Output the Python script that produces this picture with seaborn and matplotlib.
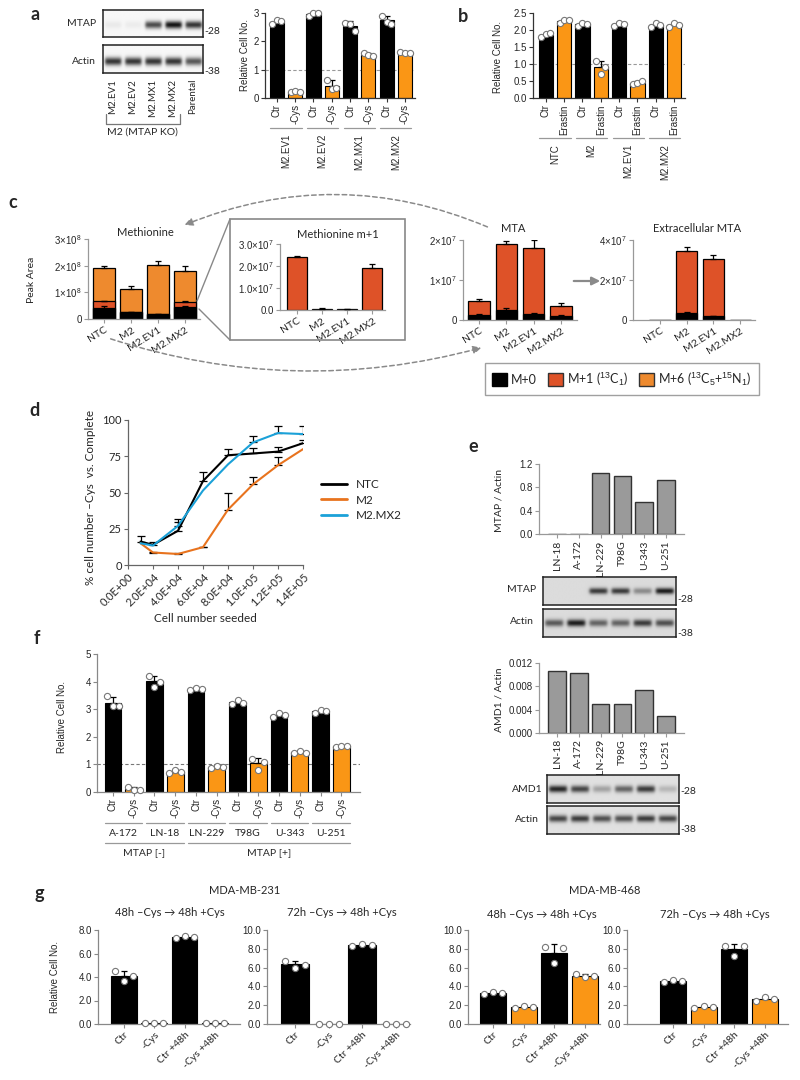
import numpy as np
import pandas as pd
import seaborn as sns
import matplotlib.pyplot as plt
import matplotlib.transforms as mtransforms
from matplotlib.patches import Rectangle, FancyArrowPatch, Patch
from matplotlib.lines import Line2D

W, H = 800, 1080
ORANGE = '#FA9615'
RED = '#DE5228'
ORANGE6 = '#EE8A2E'
GREY = '#9A9A9A'
COND_COL = {'Ctr': 'black', '-Cys': ORANGE, 'Erastin': ORANGE,
            'Ctr +48h': 'black', '-Cys +48h': ORANGE}

# ---- panel a ----
a_blot_lanes = ['M2.EV1', 'M2.EV2', 'M2.MX1', 'M2.MX2', 'Parental']
a_mtap_band = [0.06, 0.05, 0.75, 1.0, 0.85]
a_actin_band = [0.85, 0.85, 0.85, 0.85, 0.7]
a_groups = ['M2.EV1', 'M2.EV2', 'M2.MX1', 'M2.MX2']
a_conds = ['Ctr', '-Cys']
a_reps = [[2.60, 2.75, 2.72], [0.20, 0.25, 0.22],
          [2.88, 3.00, 3.00], [0.65, 0.32, 0.35],
          [2.66, 2.62, 2.35], [1.58, 1.52, 1.50],
          [2.90, 2.70, 2.62], [1.62, 1.60, 1.60]]

# ---- panel b ----
b_groups = ['NTC', 'M2', 'M2.EV1', 'M2.MX2']
b_conds = ['Ctr', 'Erastin']
b_reps = [[1.80, 1.88, 1.90], [2.20, 2.28, 2.28],
          [2.12, 2.20, 2.18], [1.08, 0.72, 0.90],
          [2.12, 2.22, 2.18], [0.40, 0.45, 0.50],
          [2.10, 2.20, 2.15], [2.10, 2.20, 2.15]]

# ---- panel c (peak areas) ----
c_lines = ['NTC', 'M2', 'M2.EV1', 'M2.MX2']
met_m0 = [0.42e8, 0.25e8, 0.18e8, 0.45e8]
met_m1 = [0.24e8, 0.005e8, 0.003e8, 0.19e8]
met_m6 = [1.27e8, 0.875e8, 1.847e8, 1.16e8]
met_err = [[0.06e8, 0.02e8, 0.02e8, 0.04e8], [0.02e8, 0, 0, 0.03e8],
           [0.06e8, 0.12e8, 0.16e8, 0.18e8]]
metm1 = [2.4e7, 0.05e7, 0.03e7, 1.9e7]
metm1_err = [0.06e7, 0.02e7, 0.01e7, 0.2e7]
mta_m0 = [0.13e7, 0.25e7, 0.14e7, 0.10e7]
mta_m1 = [0.345e7, 1.64e7, 1.67e7, 0.26e7]
mta_err = [[0.02e7, 0.04e7, 0.03e7, 0.02e7], [0.05e7, 0.09e7, 0.18e7, 0.06e7]]
ext_m0 = [0, 0.37e7, 0.18e7, 0]
ext_m1 = [0, 3.08e7, 2.85e7, 0]
ext_err = [[0, 0.05e7, 0.03e7, 0], [0, 0.2e7, 0.2e7, 0]]

# ---- panel d ----
d_seeded = [1e4, 2e4, 4e4, 6e4, 8e4, 1e5, 1.2e5, 1.4e5]
d_ntc = [16.2, 13.9, 23.6, 57.9, 75.7, 76.9, 78.2, 84.0]
d_ntc_err = [3.8, 2.3, 8.1, 6.1, 4.3, 3.6, 3.5, 2.3]
d_m2 = [15.0, 8.6, 7.6, 12.3, 38.2, 55.6, 68.8, 79.9]
d_m2_err = [0, 0.7, 1.0, 0.4, 11.6, 5.3, 6.0, 0]
d_mx2 = [15.0, 13.4, 27.0, 51.4, 69.4, 84.5, 91.0, 90.3]
d_mx2_err = [0, 0, 3.0, 0, 0, 4.2, 5.0, 5.3]
d_ticks = [0, 2e4, 4e4, 6e4, 8e4, 1e5, 1.2e5, 1.4e5]

# ---- panel e ----
e_cells = ['LN-18', 'A-172', 'LN-229', 'T98G', 'U-343', 'U-251']
e_mtap_ratio = [0.005, 0.005, 1.04, 1.0, 0.55, 0.92]
e_amd1_ratio = [0.0107, 0.0103, 0.005, 0.005, 0.0074, 0.003]
e_mtap_band = [0.0, 0.0, 0.8, 0.8, 0.4, 0.95]
e_actin1_band = [0.65, 0.95, 0.6, 0.6, 0.8, 0.7]
e_amd1_band = [0.9, 0.75, 0.3, 0.6, 0.8, 0.2]
e_actin2_band = [0.75, 0.8, 0.7, 0.7, 0.8, 0.75]

# ---- panel f ----
f_cells = ['A-172', 'LN-18', 'LN-229', 'T98G', 'U-343', 'U-251']
f_reps = [[3.47, 3.10, 3.10], [0.18, 0.06, 0.08],
          [4.20, 3.82, 4.00], [0.70, 0.78, 0.74],
          [3.70, 3.76, 3.74], [0.88, 0.95, 0.92],
          [3.20, 3.32, 3.22], [1.20, 0.80, 1.10],
          [2.72, 2.85, 2.78], [1.40, 1.48, 1.42],
          [2.88, 2.98, 2.92], [1.62, 1.68, 1.65]]

# ---- panel g ----
g_conds = ['Ctr', '-Cys', 'Ctr +48h', '-Cys +48h']
g231_48 = [[4.55, 3.70, 4.10], [0.05, 0.05, 0.05], [7.30, 7.50, 7.40], [0.05, 0.05, 0.05]]
g231_72 = [[6.75, 6.00, 6.30], [0.05, 0.05, 0.05], [8.30, 8.55, 8.40], [0.05, 0.05, 0.05]]
g468_48 = [[3.20, 3.38, 3.30], [1.75, 1.95, 1.85], [8.15, 6.45, 8.10], [5.30, 5.00, 5.15]]
g468_72 = [[4.50, 4.70, 4.55], [1.75, 1.90, 1.80], [8.30, 7.25, 8.25], [2.45, 2.85, 2.70]]

sns.set_style('ticks')
plt.rcParams['font.family'] = ['Liberation Sans', 'DejaVu Sans']
plt.rcParams['mathtext.fontset'] = 'custom'
plt.rcParams['mathtext.rm'] = 'Liberation Sans'
plt.rcParams['mathtext.it'] = 'Liberation Sans:italic'
plt.rcParams['mathtext.bf'] = 'Liberation Sans:bold'
CAL = ['Lato', 'DejaVu Sans']
ARI = ['Liberation Sans', 'DejaVu Sans']

fig = plt.figure(figsize=(8, 10.8), dpi=100)
ov = fig.add_axes([0, 0, 1, 1], zorder=10)
ov.set_xlim(0, W)
ov.set_ylim(H, 0)
ov.axis('off')


def box(x0, y0, x1, y1):
    return fig.add_axes([x0 / W, 1 - y1 / H, (x1 - x0) / W, (y1 - y0) / H])


def prism(ax, fs=7, color='#333333'):
    sns.despine(ax=ax)
    for s in ('left', 'bottom'):
        ax.spines[s].set_color(color)
        ax.spines[s].set_linewidth(0.9)
    ax.tick_params(axis='both', length=3, width=0.8, color=color, labelsize=fs, pad=1.5)
    ax.set_xlabel('')
    ax.set_ylabel('')
    ax.patch.set_alpha(0)


def rep_bars(ax, reps, colors, width=0.78, dot=20, spread=0.25):
    idx = np.arange(len(reps))
    means = np.array([np.mean(r) for r in reps])
    sds = np.array([np.std(r, ddof=1) for r in reps])
    sns.barplot(x=idx, y=means, hue=idx, palette=list(colors), legend=False, width=width, saturation=1,
                edgecolor='black', linewidth=0.8, ax=ax, zorder=2)
    ax.errorbar(idx, means, yerr=[np.zeros_like(sds), sds], fmt='none', ecolor='black',
                elinewidth=0.9, capsize=2.5, capthick=0.9, zorder=3)
    for i, r in enumerate(reps):
        off = np.linspace(-spread, spread, len(r))
        ax.scatter(i + off, r, s=dot, facecolor='white', edgecolor='#777777', linewidth=0.8,
                   zorder=4, clip_on=False)
    return idx


def stack_bars(ax, layers, colors, errs, width=0.8):
    cum = np.cumsum(np.array(layers, dtype=float), axis=0)
    idx = np.arange(cum.shape[1])
    for k in range(cum.shape[0] - 1, -1, -1):
        sns.barplot(x=idx, y=cum[k], color=colors[k], width=width, edgecolor='black', saturation=1,
                    linewidth=0.9, ax=ax, zorder=2)
    for k in range(cum.shape[0]):
        e = np.array(errs[k], float)
        m = e > 0
        ax.errorbar(idx[m], cum[k][m], yerr=[np.zeros(m.sum()), e[m]], fmt='none', ecolor='black',
                    elinewidth=0.9, capsize=2.5, capthick=0.9, zorder=5)
    return idx


def groups(ax, names, y_line, y_text, size=2, pad=0.35, rot=90, fs=7, family=ARI, color='#999999'):
    tr = mtransforms.blended_transform_factory(ax.transData, ov.transData)
    for g, name in enumerate(names):
        x0, x1 = g * size - pad, g * size + size - 1 + pad
        ov.plot([x0, x1], [y_line, y_line], color=color, lw=0.9, transform=tr, clip_on=False)
        ov.text((x0 + x1) / 2, y_text, name, rotation=rot, ha='center',
                va='top' if rot else 'center', fontsize=fs, family=family, transform=tr)


def blot(x0, y0, x1, y1, bands, row=0.5, sigma=0.09, wid=0.8, bg=0.95):
    ax = box(x0, y0, x1, y1)
    n = len(bands)
    yy = np.linspace(0, 1, 60)[:, None]
    xx = np.linspace(0, n, 80 * n)[None, :]
    img = np.full((60, 80 * n), bg)
    for i, b in enumerate(bands):
        hx = 1 / (1 + np.exp(-(xx - (i + 0.5 - wid / 2)) / 0.04)) / (1 + np.exp((xx - (i + 0.5 + wid / 2)) / 0.04))
        vy = np.exp(-0.5 * ((yy - row) / sigma) ** 2)
        img = img - b * bg * 0.92 * hx * vy
    ax.imshow(img, cmap='gray', vmin=0, vmax=1, aspect='auto', interpolation='bilinear')
    ax.set_xticks([])
    ax.set_yticks([])
    for s in ax.spines.values():
        s.set_color('#222222')
        s.set_linewidth(1.1)
    return ax


def ptxt(x, y, s, **kw):
    kw.setdefault('fontsize', 7)
    kw.setdefault('family', ARI)
    ov.text(x, y, s, **kw)


# panel letters
for lab, (x, y) in zip('abcdefg', [(35, 15), (463, 17), (13, 203), (35, 410), (473, 447), (37, 638), (39, 893)]):
    ptxt(x, y, lab, fontsize=13, fontweight='bold', family=CAL, ha='center', va='center')

# ================= a =================
blot(103, 10, 203, 37, a_mtap_band, row=0.55, sigma=0.1, bg=0.97)
blot(103, 45, 203, 73, a_actin_band, row=0.6, sigma=0.1, bg=0.97)
ptxt(96, 23, 'MTAP', ha='right', va='center', family=CAL, fontsize=7.5)
ptxt(96, 62, 'Actin', ha='right', va='center', family=CAL, fontsize=7.5)
ptxt(204, 32, '-28', va='center', family=CAL, fontsize=7.5)
ptxt(204, 71, '-38', va='center', family=CAL, fontsize=7.5)
for i, lane in enumerate(a_blot_lanes):
    ptxt(113 + 20 * i, 79, lane, rotation=90, ha='center', va='top', family=CAL, fontsize=7)
ov.plot([106, 106, 180, 180], [114, 124, 124, 114], color='#777777', lw=0.9)
ptxt(142, 132, 'M2 (MTAP KO)', ha='center', va='center', family=CAL, fontsize=7.5)

ax = box(265, 13, 415, 98)
a_labels = [c for g in a_groups for c in a_conds]
ax.axhline(1, color='#999999', lw=0.8, ls=(0, (3, 2)), zorder=0.5)
idx = rep_bars(ax, a_reps, [COND_COL[c] for c in a_labels])
prism(ax)
ax.set_ylim(0, 3)
ax.set_yticks([0, 1, 2, 3])
ax.set_xlim(-0.65, 7.55)
ax.set_xticks(idx)
ax.set_xticklabels(a_labels, rotation=90)
groups(ax, a_groups, 128, 134)
ptxt(245, 55, 'Relative Cell No.', rotation=90, ha='center', va='center')

# ================= b =================
ax = box(533, 13, 685, 98)
b_labels = [c for g in b_groups for c in b_conds]
ax.axhline(1, color='#999999', lw=0.8, ls=(0, (3, 2)), zorder=0.5)
idx = rep_bars(ax, b_reps, [COND_COL[c] for c in b_labels])
prism(ax)
ax.set_ylim(0, 2.5)
ax.set_yticks([0, 0.5, 1.0, 1.5, 2.0, 2.5])
ax.yaxis.set_major_formatter('{x:.1f}')
ax.set_xlim(-0.7, 7.6)
ax.set_xticks(idx)
ax.set_xticklabels(b_labels, rotation=90)
groups(ax, b_groups, 138, 144)
ptxt(498, 57, 'Relative Cell No.', rotation=90, ha='center', va='center')

# ================= c =================
def c_axes(ax, ymax, ticks, labels):
    prism(ax, fs=7)
    ax.set_ylim(0, ymax)
    ax.set_yticks(ticks)
    ax.set_yticklabels(labels)
    ax.set_xticks(range(len(c_lines)))
    ax.set_xticklabels(c_lines, rotation=32, ha='right', rotation_mode='anchor', family=CAL, fontsize=7.5)
    ax.spines['left'].set_color('#999999')
    ax.spines['bottom'].set_color('#999999')
    ax.tick_params(color='#999999')


ax = box(88, 239, 200, 319)
stack_bars(ax, [met_m0, met_m1, met_m6], ['black', RED, ORANGE6], met_err)
c_axes(ax, 3e8, [0, 1e8, 2e8, 3e8], ['0', r'$1{\times}10^{8}$', r'$2{\times}10^{8}$', r'$3{\times}10^{8}$'])
ax.set_xlim(-0.6, 3.55)
ptxt(145, 232, 'Methionine', ha='center', va='center', family=CAL, fontsize=8)
ptxt(32, 280, 'Peak Area', rotation=90, ha='center', va='center', family=CAL, fontsize=7.5)

ax = box(280, 244, 385, 310)
stack_bars(ax, [metm1], [RED], [metm1_err])
c_axes(ax, 3e7, [0, 1e7, 2e7, 3e7], ['0.0', r'$1.0{\times}10^{7}$', r'$2.0{\times}10^{7}$', r'$3.0{\times}10^{7}$'])
ax.set_xlim(-0.67, 3.5)
ptxt(338, 234, 'Methionine m+1', ha='center', va='center', family=CAL, fontsize=8)
ov.add_patch(Rectangle((230, 219), 175, 121, fill=False, ec='#888888', lw=1.2))
ov.plot([197, 230], [301, 219], color='#888888', lw=1.0)
ov.plot([199, 230], [309, 340], color='#888888', lw=1.0)

ax = box(463, 240, 577, 320)
stack_bars(ax, [mta_m0, mta_m1], ['black', RED], mta_err)
c_axes(ax, 2e7, [0, 1e7, 2e7], ['0', r'$1{\times}10^{7}$', r'$2{\times}10^{7}$'])
ax.set_xlim(-0.6, 3.6)
ptxt(513, 229, 'MTA', ha='center', va='center', family=CAL, fontsize=8)

ax = box(633, 240, 755, 320)
stack_bars(ax, [ext_m0, ext_m1], ['black', RED], ext_err)
c_axes(ax, 4e7, [0, 2e7, 4e7], ['0', r'$2{\times}10^{7}$', r'$4{\times}10^{7}$'])
ax.set_xlim(-1.0, 3.55)
ptxt(697, 229, 'Extracellular MTA', ha='center', va='center', family=CAL, fontsize=8)

ov.add_patch(FancyArrowPatch((490, 228), (182, 226), connectionstyle='arc3,rad=0.21',
                             arrowstyle='-|>', mutation_scale=12, ls=(0, (3, 2)), color='#8a8a8a', lw=1.1))
ov.add_patch(FancyArrowPatch((108, 338), (484, 347), connectionstyle='arc3,rad=0.15',
                             arrowstyle='-|>', mutation_scale=12, ls=(0, (3, 2)), color='#8a8a8a', lw=1.1))
ov.add_patch(FancyArrowPatch((571, 281), (603, 281), arrowstyle='-|>', mutation_scale=12,
                             color='#8a8a8a', lw=1.6))
leg_h = [Patch(fc='black', ec='black'), Patch(fc=RED, ec='#333333'), Patch(fc=ORANGE6, ec='#333333')]
leg_l = ['M+0', r'M+1 ($^{13}$C$_{1}$)', r'M+6 ($^{13}$C$_{5}$+$^{15}$N$_{1}$)']
lg = ov.legend(leg_h, leg_l, loc='center', bbox_to_anchor=(622 / W, 1 - 379 / H), bbox_transform=fig.transFigure,
               ncol=3, frameon=True, fancybox=False, edgecolor='#888888', handlelength=1.2, handleheight=1.3,
               handletextpad=0.3, columnspacing=0.9, borderpad=0.55, prop={'family': CAL, 'size': 9})
lg.get_frame().set_linewidth(1.0)

# ================= d =================
ax = box(128, 420, 303, 565)
d_df = pd.DataFrame({
    'seeded': d_seeded * 3,
    'pct': d_ntc + d_m2 + d_mx2,
    'line': ['NTC'] * 8 + ['M2'] * 8 + ['M2.MX2'] * 8,
})
d_pal = {'NTC': 'black', 'M2': '#E8731E', 'M2.MX2': '#1BA1D8'}
sns.lineplot(data=d_df, x='seeded', y='pct', hue='line', palette=d_pal, lw=1.5, ax=ax, legend=False, zorder=3)
for vals, errs in [(d_ntc, d_ntc_err), (d_m2, d_m2_err), (d_mx2, d_mx2_err)]:
    v, e, s = np.array(vals), np.array(errs), np.array(d_seeded)
    m = e > 0
    ax.errorbar(s[m], v[m], yerr=[np.zeros(m.sum()), e[m]], fmt='none', ecolor='black',
                elinewidth=0.9, capsize=3, capthick=0.9, zorder=2)
prism(ax, fs=8, color='#666666')
ax.set_xlim(0, 1.4e5)
ax.set_ylim(0, 100)
ax.set_yticks([0, 25, 50, 75, 100])
ax.set_xticks(d_ticks)
ax.set_xticklabels([f'{t:.1E}' for t in d_ticks], rotation=45, ha='right', rotation_mode='anchor',
                   family=CAL, fontsize=8)
for t in ax.get_yticklabels():
    t.set_family(CAL)
ax.legend([Line2D([], [], color=d_pal[k], lw=2) for k in d_pal], list(d_pal), loc='center left',
          bbox_to_anchor=(310 / W, 1 - 500 / H), bbox_transform=fig.transFigure, frameon=False,
          handlelength=2.2, labelspacing=0.35, prop={'family': CAL, 'size': 8.5})
ptxt(205, 618, 'Cell number seeded', ha='center', va='center', family=CAL, fontsize=8.5)
ptxt(90, 497, '% cell number \u2013Cys  vs. Complete', rotation=90, ha='center', va='center',
     family=CAL, fontsize=8.5)

# ================= e =================
def e_bars(ax, vals, ymax, ticks, fmt):
    sns.barplot(x=e_cells, y=vals, color=GREY, edgecolor='#333333', linewidth=1.0, width=0.8,
                saturation=1, ax=ax)
    prism(ax, fs=7, color='#999999')
    ax.set_ylim(0, ymax)
    ax.set_yticks(ticks)
    ax.yaxis.set_major_formatter(fmt)
    ax.set_xlim(-0.83, 5.83)
    ax.set_xticks(range(len(e_cells)))
    ax.set_xticklabels(e_cells, rotation=90, family=CAL, fontsize=7.5)


ax = box(539, 464, 684, 534)
e_bars(ax, e_mtap_ratio, 1.2, [0, 0.4, 0.8, 1.2], '{x:.1f}')
ptxt(499, 500, 'MTAP / Actin', rotation=90, ha='center', va='center', family=CAL, fontsize=7.5)
blot(543, 577, 676, 605, e_mtap_band, row=0.5, sigma=0.08, bg=0.86)
blot(543, 609, 676, 637, e_actin1_band, row=0.5, sigma=0.09, bg=0.86)
ptxt(522, 590, 'MTAP', ha='center', va='center', family=CAL, fontsize=7.5)
ptxt(522, 622, 'Actin', ha='center', va='center', family=CAL, fontsize=7.5)
ptxt(677, 600, '-28', va='center', family=CAL, fontsize=7.5)
ptxt(677, 633, '-38', va='center', family=CAL, fontsize=7.5)

ax = box(539, 663, 684, 733)
e_bars(ax, e_amd1_ratio, 0.012, [0, 0.004, 0.008, 0.012], '{x:.3f}')
ptxt(499, 700, 'AMD1 / Actin', rotation=90, ha='center', va='center', family=CAL, fontsize=7.5)
blot(547, 775, 679, 803, e_amd1_band, row=0.5, sigma=0.09, bg=0.88)
blot(547, 806, 679, 834, e_actin2_band, row=0.45, sigma=0.09, bg=0.88)
ptxt(527, 790, 'AMD1', ha='center', va='center', family=CAL, fontsize=7.5)
ptxt(527, 820, 'Actin', ha='center', va='center', family=CAL, fontsize=7.5)
ptxt(680, 792, '-28', va='center', family=CAL, fontsize=7.5)
ptxt(680, 830, '-38', va='center', family=CAL, fontsize=7.5)

# ================= f =================
ax = box(97, 654, 360, 792)
f_labels = [c for g in f_cells for c in a_conds]
ax.axhline(1, color='#777777', lw=0.8, ls=(0, (3, 2)), zorder=0.5)
idx = rep_bars(ax, f_reps, [COND_COL[c] for c in f_labels], width=0.8, spread=0.28)
prism(ax, color='#888888')
ax.set_ylim(0, 5)
ax.set_yticks([0, 1, 2, 3, 4, 5])
ax.set_xlim(-0.77, 11.9)
ax.set_xticks(idx)
ax.set_xticklabels(f_labels, rotation=90)
groups(ax, f_cells, 823, 833, rot=0, family=CAL, fs=7.5, pad=0.4)
tr = mtransforms.blended_transform_factory(ax.transData, ov.transData)
for name, g0, g1 in [('MTAP [-]', 0, 1), ('MTAP [+]', 2, 5)]:
    x0, x1 = 2 * g0 - 0.4, 2 * g1 + 1.4
    ov.plot([x0, x1], [843, 843], color='#999999', lw=0.9, transform=tr)
    ov.text((x0 + x1) / 2, 853, name, ha='center', va='center', fontsize=7.5, family=CAL, transform=tr)
ptxt(62, 717, 'Relative Cell No.', rotation=90, ha='center', va='center')

# ================= g =================
g_panels = [((98, 930, 240, 1024), g231_48, 8, (-0.86, 3.83), ['black'] * 4, (170, 912)),
            ((267, 930, 410, 1024), g231_72, 10, (-0.84, 3.43), ['black'] * 4, (342, 912)),
            ((468, 930, 600, 1024), g468_48, 10, (-0.83, 3.5), [COND_COL[c] for c in g_conds], (542, 915)),
            ((627, 930, 788, 1024), g468_72, 10, (-1.5, 3.75), [COND_COL[c] for c in g_conds], (715, 915))]
g_titles = ['48h \u2013Cys \u2192 48h +Cys', '72h \u2013Cys \u2192 48h +Cys',
            '48h \u2013Cys \u2192 48h +Cys', '72h \u2013Cys \u2192 48h +Cys']
for (bx, reps, ymax, xl, cols, tpos), title in zip(g_panels, g_titles):
    ax = box(*bx)
    idx = rep_bars(ax, reps, cols, width=0.85, spread=0.3)
    prism(ax, fs=7, color='#888888')
    ax.set_ylim(0, ymax)
    ax.set_yticks(np.arange(0, ymax + 0.1, 2))
    ax.yaxis.set_major_formatter('{x:.1f}')
    ax.set_xlim(*xl)
    ax.set_xticks(idx)
    ax.set_xticklabels(g_conds, rotation=45, ha='right', rotation_mode='anchor', family=CAL, fontsize=7.5)
    ptxt(tpos[0], tpos[1], title, ha='center', va='center', family=CAL, fontsize=8)
ptxt(245, 890, 'MDA-MB-231', ha='center', va='center', family=CAL, fontsize=8)
ptxt(605, 890, 'MDA-MB-468', ha='center', va='center', family=CAL, fontsize=8)
ptxt(55, 977, 'Relative Cell No.', rotation=90, ha='center', va='center')

fig.savefig('out.png', dpi=100)
